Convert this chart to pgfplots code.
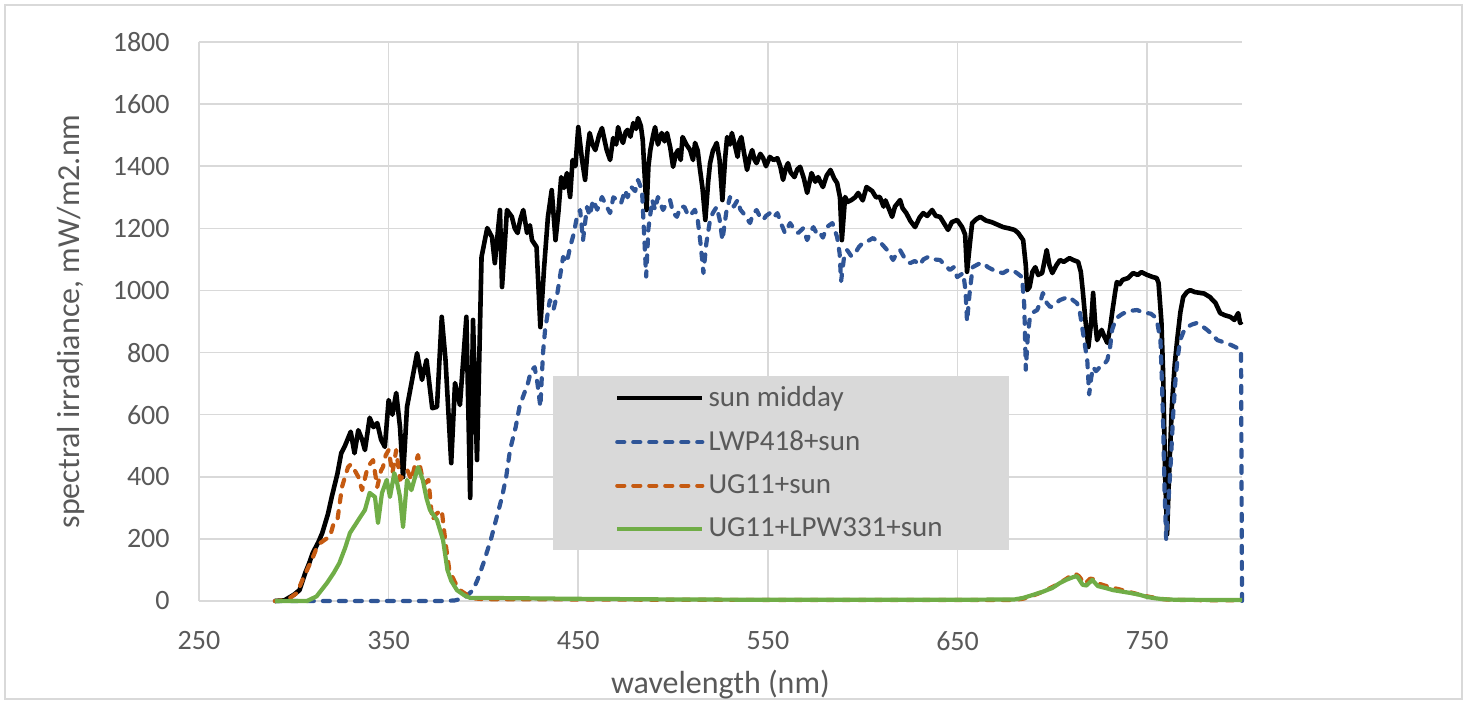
\documentclass[border=0pt]{standalone}
\usepackage{fontspec}
\setmainfont{Carlito}
\usepackage{pgfplots}
\usepackage{pgfplotstable}
\pgfplotsset{compat=1.18}

\definecolor{tickgray}{HTML}{595959}
\definecolor{gridgray}{HTML}{D9D9D9}
\definecolor{legfill}{HTML}{D9D9D9}
\definecolor{lwpblue}{HTML}{2F5597}
\definecolor{ugorange}{HTML}{C55A11}
\definecolor{uggreen}{HTML}{70AD47}

% sun midday
\pgfplotstableread{
x y
290 0
295 2
300 20
303 35
306 90
308 120
310 155
313 190
315 219
318 280
320 335
323 410
325 476
327 500
330 545
332 476
334 550
336 520
337.5 486
340 590
342 560
344 573
346 520
348 496
350 647
352 600
354 670
356 560
357.6 399
359.7 625
362 700
365 798
367.6 712
370 776
373 621
375.5 625
378 915
380 776
383 444
385 702
387.6 631
391 915
393 332
394.5 905
396.6 454
399 1108
402 1201
404.5 1172
406 1088
408.7 1259
409.8 1011
412.4 1259
415 1237
416.5 1200
418 1185
419.5 1230
421 1259
423 1185
424.5 1210
425.6 1162
428 1140
430 882
432 1075
434 1237
436 1323
438 1162
439.5 1250
441 1365
442.5 1330
444 1378
445.7 1301
447 1420
448.5 1400
450 1526
452 1420
453.6 1356
455 1460
456 1507
457.5 1470
459 1452
461 1500
462.5 1523
464 1480
465 1452
466.8 1420
468.4 1491
470 1470
471 1526
472.5 1490
473.6 1475
475 1510
476 1517
477.5 1495
479 1539
480.5 1520
481.5 1555
483 1530
484 1484
486 1259
487 1400
488 1452
489.5 1500
490.5 1526
492 1470
494 1507
495.5 1480
496.8 1507
498.5 1460
500 1398
501.5 1440
502.6 1452
504 1420
505 1494
507 1470
509 1452
510.5 1420
511.6 1475
513 1450
514 1398
515.5 1330
517 1227
518.5 1350
519.5 1410
521 1450
523 1475
524.5 1420
526 1291
527.5 1430
528.5 1494
530 1470
531 1507
532.5 1470
534 1430
535 1480
536 1494
537.5 1440
539 1388
540.5 1430
541.7 1452
543 1420
544 1410
546 1440
547.5 1426
549 1400
551 1430
553 1420
555 1426
556.5 1400
558 1356
559.5 1395
560.6 1410
562 1380
564 1365
565.5 1390
567 1398
569 1360
570.7 1314
572 1350
573 1378
575 1350
576.5 1365
578 1345
579 1333
581 1370
583 1388
585 1360
586.5 1346
588 1300
589 1162
590.7 1301
592 1285
594 1291
596 1300
597.6 1314
600 1290
602 1333
605 1320
607 1300
609 1301
611 1270
612 1290
614 1260
615.5 1237
617 1270
619.7 1291
621 1265
623 1249
625 1225
627.6 1204
630 1235
631.9 1249
634 1240
636.6 1259
638.5 1240
640.8 1237
643 1215
645 1195
647 1220
649.8 1227
652.4 1204
654 1180
655 1060
656.5 1150
657.7 1217
660 1230
662 1237
665 1225
668 1220
671 1212
674 1204
677 1200
680 1195
682 1185
684.6 1162
686 1080
686.7 1001
688 1011
689.5 1060
691 1075
692.5 1050
694.6 1056
697 1130
698.5 1080
700 1056
702 1080
704 1098
706 1092
709 1104
711 1098
713.6 1092
715 1060
716 1001
717.5 900
719 818
720.5 900
721.5 992
722.5 900
723.6 840
725 860
726 873
727.5 850
729 831
730.5 880
731.5 927
733 990
734 1027
735.5 1020
737 1034
740 1040
742.6 1056
745 1050
747 1059
750 1050
753 1043
755 1040
756 1024
757.5 900
758.4 734
759.5 400
760.5 215
761.5 400
763 625
764.5 760
765.8 840
767.5 930
769 979
771 995
772.7 1001
775 995
778 992
780 990
783 979
786 960
788.5 927
791 920
793.8 915
796 905
798 927
799 895
800 900
}\sun

% LWP418 + sun
\pgfplotstableread{
x y
290 0
300 0
380 0
385 2
390 10
394.5 35
397 70
400 122
404 200
407 270
409.8 335
412 400
414 486
417 560
419 625
421 660
423.5 702
425 740
427 753
428.5 700
430 625
431.4 798
432.5 873
435 969
437 940
439 992
442 1108
444 1090
445.7 1140
447.5 1180
449 1227
451 1259
452.5 1162
454.6 1269
456 1240
457.8 1291
460 1260
462.5 1301
465 1270
466.8 1249
468.5 1300
470.5 1291
472.5 1280
474.7 1323
476 1300
478 1333
480 1320
481.5 1356
483.6 1323
485.8 1045
487 1200
489 1291
490.5 1260
492 1301
494.7 1259
496.5 1280
498.4 1291
500 1250
502 1237
504 1270
506 1269
508 1240
510 1249
511.5 1260
513 1227
514.5 1150
516 1056
517.5 1150
519.5 1227
521 1250
523 1269
524.5 1230
526 1162
528 1250
530 1301
532 1270
534 1291
535.5 1260
537 1249
539 1230
540.6 1217
542 1245
544 1259
546 1235
547.5 1227
549 1240
551 1249
553 1235
555 1249
557 1215
559 1185
561.7 1217
564 1195
566 1185
568.5 1200
570.7 1162
572.5 1190
574 1204
576 1180
577.5 1185
579 1170
581 1204
584 1217
586.5 1172
587.8 1120
588.6 1030
590 1100
591.8 1130
594 1110
596 1120
598 1140
600 1153
603 1160
605.5 1169
608 1155
610 1150
612.9 1130
616 1098
618 1120
619.7 1130
622 1105
625 1088
627.5 1095
630 1082
632 1100
634.5 1108
637.5 1100
640.8 1098
643.5 1080
646 1066
648 1075
649.8 1043
653 1056
654.2 1000
655 900
656.5 1000
658 1075
661 1085
663.5 1088
666 1075
668.8 1066
671 1060
674 1056
676.5 1065
679 1066
681.5 1055
684 1043
685.2 950
686 745
687 850
688 905
690 930
692 937
693.5 960
695 992
697 960
699 946
701 955
704 969
706.5 975
709 979
711 968
713 959
714.5 930
715.7 882
717 830
718.4 776
719.4 665
720.5 720
721.5 753
723 740
725 753
727 760
729 776
730.5 820
731.5 873
733 900
734.7 915
737 925
739.5 931
742 935
744.7 937
747.5 930
750 927
752 925
754 915
755.5 890
757 840
757.8 700
758.4 573
759.2 350
760 200
761.3 330
762.6 464
763.7 600
764.8 702
766 780
767.4 840
769 865
771 882
773.5 890
776 895
779 885
781.6 873
784 860
787 840
789.5 835
792 831
794 825
796.4 818
799.5 808
800 0
}\lwp

% UG11 + sun
\pgfplotstableread{
x y
290 0
295 2
298 10
301.7 26
304 60
307 100
310 140
312 170
314 187
317 200
319 206
321 250
323 261
325.4 367
327 400
328.6 431
330 440
332 422
334 400
336 357
338.6 422
340 440
341.8 454
344 367
346 420
347 431
348.5 470
350 486
352 412
354 486
356 390
358.6 412
360 420
362 390
364 440
365.5 470
367 420
368 390
369.5 380
371 390
373 261
375 280
378 293
380 187
382 100
385 60
387.6 35
393 13
396 8
400 6
450 5
500 4
600 3
680 3
685 8
690 18
695 30
700 45
705 62
710 82
712 88
714 80
717 55
720 72
722 70
725 55
730 45
735 38
740 30
745 22
750 15
755 9
760 5
770 3
800 2
}\ugsun

% UG11 + LPW331 + sun
\pgfplotstableread{
x y
290 0
300 0
307 0
312 15
317.5 58
321 90
324 122
327 170
329.6 219
333 251
335 270
337.5 293
340 348
342.8 335
344.4 251
346.5 348
349 390
350.7 335
353 412
354.5 380
356 335
357.6 238
359.7 390
362 357
364 400
365.5 431
368 390
370 330
371.8 293
375.5 261
378.7 196
381 100
383 65
386 35
390 18
393 10
400 10
450 7
500 5
550 4
600 4
650 4
680 5
684.6 10
690 20
695 30
700 42
704 58
708 70
711 77
713 80
716 52
718 50
721 68
724 48
728 42
732 35
737 30
741 26
746 20
750 13
754 9
758 6
765 4
800 3
}\uglpw

\begin{document}
\begin{tikzpicture}
\path[use as bounding box] (-99.5pt,-50.5pt) rectangle (634.5pt,300.5pt);
\draw[gridgray, line width=0.8pt] (-97pt,-49pt) rectangle (631.5pt,298pt);
\begin{axis}[
    scale only axis,
    width=521.5pt, height=279.5pt,
    xmin=250, xmax=800,
    ymin=0, ymax=1800,
    xtick={250,350,...,750},
    ytick={0,200,...,1800},
    grid=major,
    major grid style={draw=gridgray, line width=0.8pt},
    axis line style={draw=none},
    major tick length=0pt,
    clip=false,
    /pgf/number format/assume math mode=true,
    /pgf/number format/1000 sep={},
    ticklabel style={font=\fontsize{14}{16}\selectfont, text=tickgray, inner sep=0pt},
    xticklabel style={anchor=north, yshift=-15pt},
    yticklabel style={anchor=east, xshift=-14.5pt},
    xlabel={wavelength (nm)},
    ylabel={spectral irradiance, mW/m2.nm},
    label style={font=\fontsize{16}{18}\selectfont, text=tickgray},
    xlabel style={at={(axis description cs:0.5,0)}, anchor=center, yshift=-42pt},
    ylabel style={at={(axis description cs:0,0.5)}, anchor=center, yshift=64pt},
    legend cell align=left,
    legend image code/.code={\draw[#1] (0pt,0pt) -- (42.5pt,0pt);},
    legend style={at={(rel axis cs:0.339,0.4025)}, anchor=north west,
        fill=legfill, draw=none, inner xsep=31pt, inner ysep=3pt,
        row sep=6.6pt, font=\fontsize{14.5}{16}\selectfont, text=tickgray},
    every axis plot/.append style={line join=round},
]
\addplot[black, line width=2.3pt, no marks] table[x=x, y=y] {\sun};
\addplot[lwpblue, line width=2.1pt, no marks, line cap=round, dash pattern=on 3.5pt off 4.5pt] table[x=x, y=y] {\lwp};
\addplot[ugorange, line width=2.1pt, no marks, line cap=round, dash pattern=on 3.5pt off 4.5pt] table[x=x, y=y] {\ugsun};
\addplot[uggreen, line width=2.1pt, no marks] table[x=x, y=y] {\uglpw};
\legend{sun midday, LWP418+sun, UG11+sun, UG11+LPW331+sun}
\end{axis}
\end{tikzpicture}
\end{document}
